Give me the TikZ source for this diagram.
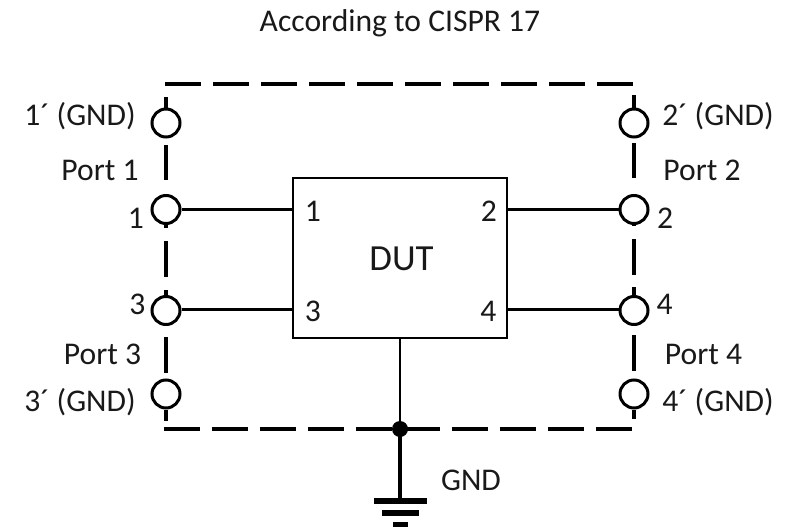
\documentclass[tikz,border=0pt]{standalone}
\usepackage{fontspec}
\setmainfont{Carlito}
\tikzset{
  lbl/.style={inner sep=0pt,font=\fontsize{31.6}{36}\selectfont,text=black!90},
  port/.style={circle,draw,line width=3pt,minimum size=28pt,inner sep=0pt,fill=white},
  thick line/.style={line width=4pt},
  thin line/.style={line width=2.8pt},
  duts/.style={draw,line width=1.7pt,minimum width=214pt,minimum height=160pt,inner sep=0pt}
}
\begin{document}
\begin{tikzpicture}[x=1pt,y=-1pt]
\useasboundingbox (0,0) rectangle (792,527);
% DUT
\node[duts] (dut) at (400,258) {};
\node[lbl,font=\fontsize{36.8}{40}\selectfont] at (401.5,259) {DUT};
% ports
\node[port] (p1g) at (166,123) {};
\node[port] (p1) at (166,209.5) {};
\node[port] (p3) at (166,310.5) {};
\node[port] (p3g) at (166,394) {};
\node[port] (p2g) at (634,123) {};
\node[port] (p2) at (634,209.5) {};
\node[port] (p4) at (634,310.5) {};
\node[port] (p4g) at (634,394) {};
% dashed frame
\coordinate (tl) at (165,84);
\coordinate (tr) at (634,84);
\coordinate (bl) at (164,429);
\coordinate (br) at (634,429);
\draw[thick line,dash pattern=on 36pt off 12pt] (tl) -- (tr);
\draw[thick line,dash pattern=on 36pt off 12pt] (bl) -- (br);
% left side
\draw[thick line] (166,97) -- (p1g.north);
\draw[thick line] (166,145) -- (166,180);
\draw[thick line] (p1.south) -- (166,228);
\draw[thick line] (166,241) -- (166,277);
\draw[thick line] (166,290) -- (p3.north);
\draw[thick line] (166,337) -- (166,373);
\draw[thick line] (p3g.south) -- (166,421);
% right side
\draw[thick line] (634,95) -- (p2g.north);
\draw[thick line] (634,143) -- (634,178);
\draw[thick line] (p2.south) -- (634,226);
\draw[thick line] (634,239) -- (634,275);
\draw[thick line] (634,287) -- (p4.north);
\draw[thick line] (634,335) -- (634,371);
\draw[thick line] (p4g.south) -- (634,419);
% leads
\coordinate (d1) at (dut.west |- 0,209.3);
\coordinate (d3) at (dut.west |- 0,309.3);
\coordinate (d2) at (dut.east |- 0,209.3);
\coordinate (d4) at (dut.east |- 0,309.3);
\draw[thin line] (p1.east |- d1) -- (d1);
\draw[thin line] (p3.east |- d3) -- (d3);
\draw[thin line] (p2.west |- d2) -- (d2);
\draw[thin line] (p4.west |- d4) -- (d4);
% ground
\coordinate (j) at (400,429);
\draw[thin line] (dut.south) -- (j);
\fill (j) circle (8pt);
\coordinate (g1) at (400,501);
\draw[line width=4.5pt] (j) -- (g1);
\draw[line width=6pt] (374,501) -- (427,501);
\draw[line width=6pt] (382,513) -- (419,513);
\draw[line width=6pt] (393,525) -- (408,525);
% labels
\node[lbl] at (400,23) {According to CISPR 17};
\node[lbl] at (80,116) {1´ (GND)};
\node[lbl] at (100,170) {Port 1};
\node[lbl] at (136,218) {1};
\node[lbl] at (137.5,304) {3};
\node[lbl] at (102.5,354) {Port 3};
\node[lbl] at (80,402) {3´ (GND)};
\node[lbl] at (718,116) {2´ (GND)};
\node[lbl] at (702,170) {Port 2};
\node[lbl] at (665,218) {2};
\node[lbl] at (664.5,304) {4};
\node[lbl] at (703.5,354) {Port 4};
\node[lbl] at (718,402) {4´ (GND)};
\node[lbl] at (313,211) {1};
\node[lbl] at (313,311.5) {3};
\node[lbl] at (489,211) {2};
\node[lbl] at (488.5,311.5) {4};
\node[lbl] at (471,480) {GND};
\end{tikzpicture}
\end{document}
